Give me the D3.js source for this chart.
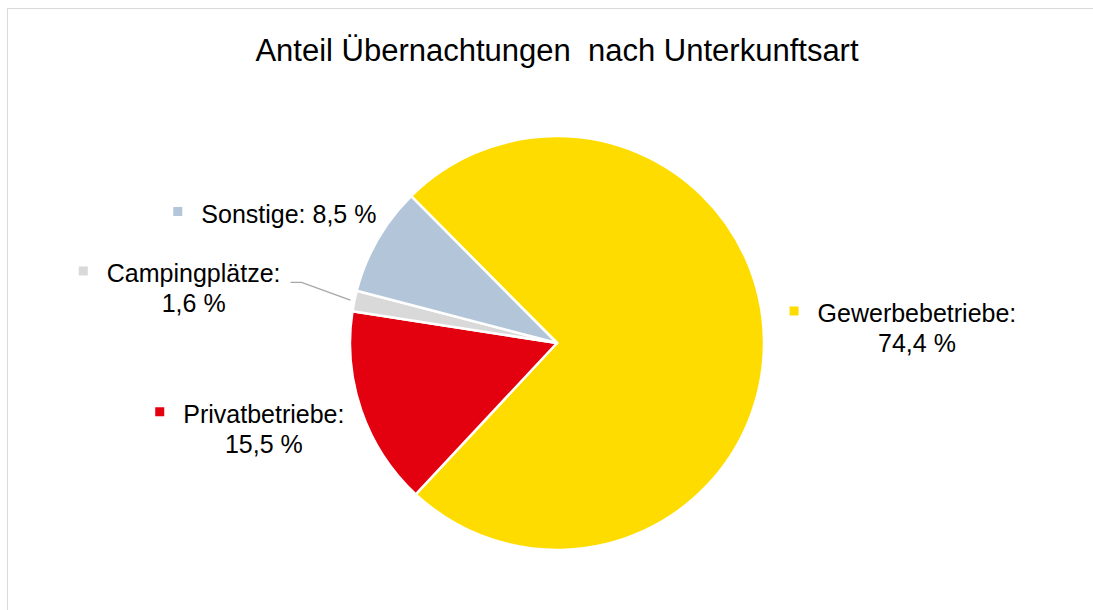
<!DOCTYPE html>
<html>
<head>
<meta charset="utf-8">
<script src="https://cdn.jsdelivr.net/npm/d3@7"></script>
<style>
  body { margin: 0; background: #fff; }
  text { font-family: "Liberation Sans", Arial, sans-serif; fill: #000; }
</style>
</head>
<body>
<svg id="chart" width="1093" height="610"></svg>
<script>
// Chart data
var categories = ["Gewerbebetriebe", "Privatbetriebe", "Campingplätze", "Sonstige"];
var values = [74.4, 15.5, 1.6, 8.5];
var colors = ["#ffdc00", "#e3000f", "#d9d9d9", "#b3c6d9"];
var title = "Anteil Übernachtungen  nach Unterkunftsart";

// Get the SVG and its dimensions
var svg = d3.select("#chart"),
    width = +svg.attr("width"),
    height = +svg.attr("height");

// Pie geometry
var cx = 557, cy = 343, radius = 207;
var startAngle = -44.8 * Math.PI / 180;

// Label layout: radius from centre, then shift of first baseline
var labelLayout = [
    {r: 360, dx: 0,  dy: -15, lines: 2},
    {r: 307, dx: -3, dy: -20, lines: 2},
    {r: 367, dx: -4, dy: 14,  lines: 2, leader: true},
    {r: 307, dx: -2, dy: 33,  lines: 1}
];

// Chart frame (runs off the right and bottom of the picture)
svg.append("rect")
    .attr("x", 7.5).attr("y", 8.5)
    .attr("width", width).attr("height", height)
    .attr("fill", "none")
    .attr("stroke", "#d9d9d9");

// Title
svg.append("text")
    .attr("x", cx).attr("y", 61)
    .attr("text-anchor", "middle")
    .attr("font-size", 31)
    .style("white-space", "pre")
    .text(title);

var pie = d3.pie().sort(null)
    .startAngle(startAngle)
    .endAngle(startAngle + 2 * Math.PI);
var arcs = pie(values);
var arc = d3.arc().innerRadius(0).outerRadius(radius);

var g = svg.append("g").attr("transform", "translate(" + cx + "," + cy + ")");

g.selectAll("path").data(arcs).enter().append("path")
    .attr("d", arc)
    .attr("fill", (d, i) => colors[i])
    .attr("stroke", "#fff")
    .attr("stroke-width", 2.5)
    .attr("stroke-linejoin", "round");

// Point on a circle of radius r at angle a (clockwise from top)
function polar(a, r) { return [r * Math.sin(a), -r * Math.cos(a)]; }

var fmt = v => d3.format(".1f")(v).replace(".", ",") + " %";

arcs.forEach(function(d, i) {
    var lay = labelLayout[i],
        mid = (d.startAngle + d.endAngle) / 2,
        p = polar(mid, lay.r),
        x = p[0] + lay.dx,
        y = p[1] + lay.dy;

    var lines = lay.lines == 2
        ? [categories[i] + ":", fmt(d.data)]
        : [categories[i] + ": " + fmt(d.data)];

    var t = g.append("text")
        .attr("text-anchor", "middle")
        .attr("font-size", 25);
    lines.forEach(function(s, j) {
        t.append("tspan").attr("x", x).attr("y", y + j * 30).text(s);
    });

    // Legend key square to the left of the first line
    var w = t.select("tspan").node().getComputedTextLength();
    g.append("rect")
        .attr("x", x - w / 2 - 28).attr("y", y - 16)
        .attr("width", 9).attr("height", 9)
        .attr("fill", colors[i]);

    // Leader line for the small slice
    if (lay.leader) {
        var e = polar(mid, radius + 4);
        var sx = x + w / 2 + 10;
        g.append("path")
            .attr("d", d3.line()([[sx, y], [sx + 11, y], e]))
            .attr("fill", "none")
            .attr("stroke", "#a6a6a6")
            .attr("stroke-width", 1.3);
    }
});
</script>
</body>
</html>
